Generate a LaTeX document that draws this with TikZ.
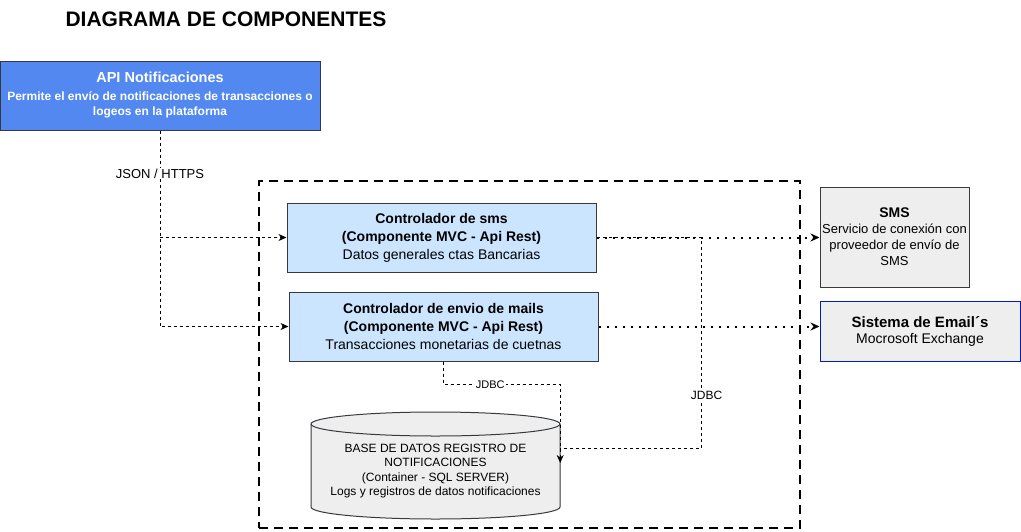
\documentclass[tikz,border=0pt]{standalone}
\usepackage{fontspec}
\setmainfont{Liberation Sans}
\usetikzlibrary{arrows.meta,positioning,calc}
\definecolor{apiblue}{RGB}{82,136,240}
\definecolor{ctrlblue}{RGB}{204,229,255}
\definecolor{boxgray}{RGB}{238,238,238}
\definecolor{edgegray}{RGB}{54,57,61}
\definecolor{mailblue}{RGB}{0,29,188}

\begin{document}
\begin{tikzpicture}[
    x=1pt, y=-1pt,
    api/.style={rectangle, draw=edgegray, fill=apiblue, line width=1pt, minimum width=320pt, minimum height=69pt, align=center, text=white, font=\fontsize{12}{15.5}\selectfont\bfseries},
    controller/.style={rectangle, draw=edgegray, fill=ctrlblue, line width=1pt, minimum width=309pt, minimum height=69pt, align=center, font=\fontsize{14}{18}\selectfont},
    external/.style={rectangle, draw=edgegray, fill=boxgray, line width=1pt, align=center, inner sep=0pt},
    boundary/.style={draw=black, line width=1.2pt, dash pattern=on 9pt off 6pt, inner sep=0pt},
    conn/.style={draw=black, line width=1pt, dash pattern=on 3pt off 3pt, -{Stealth[length=8pt,width=7pt,inset=2.5pt]}},
    dotconn/.style={draw=black, line width=2pt, dash pattern=on 2pt off 6pt, -{Stealth[length=9pt,width=8pt,inset=3pt]}},
    lbl/.style={fill=white, inner sep=1pt, font=\fontsize{12}{14}\selectfont}
]
\useasboundingbox (0,0) rectangle (1021,531);

% Title
\node[font=\fontsize{21}{24}\selectfont\bfseries] (title) at (226,19) {DIAGRAMA DE COMPONENTES};

% Container
\node[boundary, minimum width=541pt, minimum height=347pt] (container) at (529.5,354.5) {};

% API
\node[api] (api) at (160,95.5) {{\fontsize{14.5}{17}\selectfont API Notificaciones}\\[2pt]
    Permite el envío de notificaciones de transacciones o\\ logeos en la plataforma};

% Controllers
\node[controller] (sms) at (441.5,237.5) {\textbf{Controlador de sms}\\ \textbf{(Componente MVC - Api Rest)}\\ Datos generales ctas Bancarias};
\node[controller, below=19pt of sms, xshift=2pt] (mail) {\textbf{Controlador de envio de mails}\\ \textbf{(Componente MVC - Api Rest)}\\ Transacciones monetarias de cuetnas};

% External systems
\node[external, minimum width=149pt, minimum height=100pt, font=\fontsize{13}{16}\selectfont] (smsext) at (894.5,237)
    {{\fontsize{14}{16}\selectfont\bfseries SMS}\\ Servicio de conexión con\\ proveedor de envío de\\ SMS};
\node[external, draw=mailblue, minimum width=200pt, minimum height=60pt, font=\fontsize{14}{16}\selectfont, below=13pt of smsext.south west, anchor=north west] (email)
    {{\fontsize{15}{17}\selectfont\bfseries Sistema de Email´s}\\ Mocrosoft Exchange};

% Database
\path[draw=edgegray, fill=boxgray, line width=1pt] (311,424) -- (311,507) arc[start angle=180, end angle=360, x radius=124.5pt, y radius=12pt]
    -- (560,424) arc[start angle=0, end angle=180, x radius=124.5pt, y radius=12pt] -- cycle;
\draw[edgegray, line width=1pt] (311,424) arc[start angle=180, end angle=360, x radius=124.5pt, y radius=12pt];
\node[align=center, minimum width=249pt, inner sep=0pt, font=\fontsize{12}{14.5}\selectfont] (db) at (435.5,471)
    {BASE DE DATOS REGISTRO DE\\ NOTIFICACIONES\\ (Container - SQL SERVER)\\ Logs y registros de datos notificaciones};

% Connectors
\draw[conn] (api.south) -- node[lbl, pos=0.22, font=\fontsize{13}{15}\selectfont] {JSON / HTTPS} (api.south |- mail.west) -- (mail.west);
\draw[conn] (api.south |- sms.west) -- (sms.west);
\draw[dotconn] (sms.east) -- (sms.east -| smsext.west);
\draw[dotconn] (mail.east) -- (mail.east -| email.west);
\draw[conn] (mail.south) -- ++(0,23) coordinate (m1) -- node[lbl, pos=0.4, font=\fontsize{11}{13}\selectfont] {JDBC} (m1 -| db.east) -- ([yshift=8pt]db.east);
\draw[conn, -] (sms.east) -- ++(105,0) coordinate (s1) -- node[lbl, pos=0.75, xshift=5pt] {JDBC} ([yshift=23pt]db.east -| s1) -- ([yshift=23pt]db.east);

\end{tikzpicture}
\end{document}
